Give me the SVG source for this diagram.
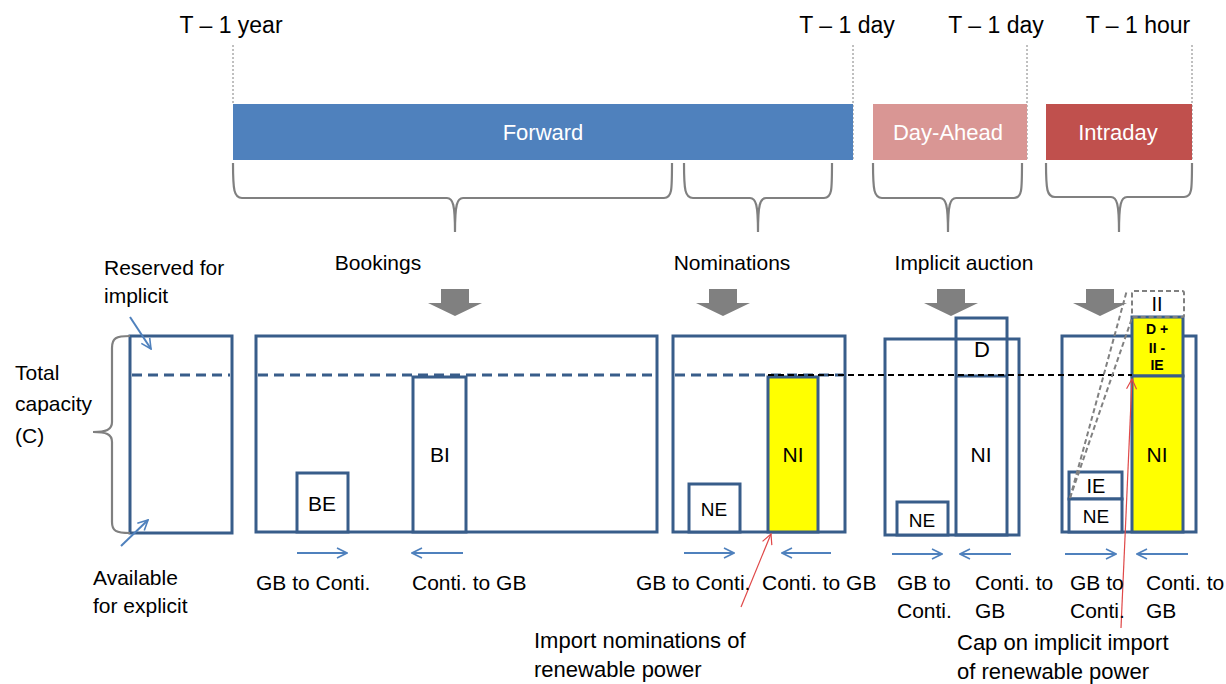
<svg xmlns="http://www.w3.org/2000/svg" width="1226" height="684" viewBox="0 0 1226 684">
<style>
text{font-family:"Liberation Sans",Arial,sans-serif;fill:#000}
.top{font-size:23px;text-anchor:middle}
.bar{font-size:22px;fill:#fff;text-anchor:middle}
.stage{font-size:21px;text-anchor:middle}
.side{font-size:21px}
.lbl{font-size:21px}
.note{font-size:22px}
.bx{font-size:21px;text-anchor:middle}
.bold{font-size:14px;font-weight:bold;text-anchor:middle}
.tick{stroke:#808080;stroke-width:1;stroke-dasharray:2 2;fill:none}
.brace{stroke:#808080;stroke-width:2.2;fill:none}
.box{fill:#fff;stroke:#385D8A;stroke-width:3}
.yel{fill:#FFFF00;stroke:#385D8A;stroke-width:3}
.nofill{fill:none;stroke:#385D8A;stroke-width:3}
.bdash{stroke:#385D8A;stroke-width:3;stroke-dasharray:10 6;fill:none}
.kdash{stroke:#000;stroke-width:2;stroke-dasharray:6 4;fill:none}
.gdash{stroke:#808080;stroke-width:2;stroke-dasharray:5 3;fill:none}
.big{fill:#808080}
.flow{stroke:#4F81BD;stroke-width:2;fill:none;marker-end:url(#ba)}
.red{stroke:#E04848;stroke-width:1.2;fill:none;marker-end:url(#ra)}
</style>
<defs>
<marker id="ba" viewBox="0 0 12 12" refX="11" refY="6" markerWidth="12" markerHeight="12" markerUnits="userSpaceOnUse" orient="auto">
<path d="M1,1 L11,6 L1,11" fill="none" stroke="#4F81BD" stroke-width="1.6"/>
</marker>
<marker id="ra" viewBox="0 0 12 12" refX="11" refY="6" markerWidth="12" markerHeight="12" markerUnits="userSpaceOnUse" orient="auto">
<path d="M1,1 L11,6 L1,11" fill="none" stroke="#E04848" stroke-width="1.2"/>
</marker>
</defs>
<rect width="1226" height="684" fill="#fff"/>

<g id="timeline">
<line class="tick" x1="233" y1="45" x2="233" y2="104"/>
<line class="tick" x1="853" y1="45" x2="853" y2="160"/>
<line class="tick" x1="1027" y1="45" x2="1027" y2="160"/>
<line class="tick" x1="1192" y1="45" x2="1192" y2="160"/>
<text class="top" x="231" y="33">T – 1 year</text>
<text class="top" x="847" y="33">T – 1 day</text>
<text class="top" x="996" y="33">T – 1 day</text>
<text class="top" x="1138" y="33">T – 1 hour</text>
</g>

<g id="forward-bar">
<rect x="233" y="104" width="620" height="56" fill="#4F81BD"/>
<text class="bar" x="543" y="140">Forward</text>
</g>
<g id="dayahead-bar">
<rect x="873" y="104" width="154" height="56" fill="#D99694"/>
<text class="bar" x="948" y="140">Day-Ahead</text>
</g>
<g id="intraday-bar">
<rect x="1046" y="104" width="146" height="56" fill="#C0504D"/>
<text class="bar" x="1118" y="140">Intraday</text>
</g>

<g id="braces">
<path class="brace" d="M233,163 C233,190 234,198 242,198 L447,198 C453,198 455,205 455,232 C455,205 457,198 463,198 L664,198 C672,198 672,190 672,163"/>
<path class="brace" d="M684,163 C684,190 685,198 693,198 L750,198 C756,198 758,205 758,232 C758,205 760,198 766,198 L824,198 C832,198 832,190 832,163"/>
<path class="brace" d="M873,163 C873,190 874,198 882,198 L940,198 C946,198 948,205 948,232 C948,205 950,198 956,198 L1014,198 C1022,198 1022,190 1022,163"/>
<path class="brace" d="M1046,163 C1046,190 1047,197 1055,197 L1111,197 C1117,197 1119,204 1119,232 C1119,204 1121,197 1127,197 L1184,197 C1192,197 1192,190 1192,163"/>
</g>

<g id="stage-labels">
<text class="stage" x="378" y="270">Bookings</text>
<text class="stage" x="732" y="270">Nominations</text>
<text class="stage" x="964" y="270">Implicit auction</text>
<polygon class="big" points="441,289 469,289 469,303 482,303 455,316 428,303 441,303"/>
<polygon class="big" points="709,289 737,289 737,303 750,303 723,316 696,303 709,303"/>
<polygon class="big" points="937,289 965,289 965,303 978,303 951,316 924,303 937,303"/>
<polygon class="big" points="1086,289 1114,289 1114,303 1127,303 1100,316 1073,303 1086,303"/>
</g>

<g id="capacity-legend">
<rect class="box" x="130" y="336" width="102" height="197"/>
<line class="bdash" x1="132" y1="375" x2="230" y2="375"/>
<path class="brace" d="M130,336 C116,336 112,338 112,348 L112,422 C112,430 106,432 93,432 C106,432 112,434 112,442 L112,522 C112,531 116,533 130,533"/>
<text class="side" x="15" y="380">Total</text>
<text class="side" x="15" y="411">capacity</text>
<text class="side" x="15" y="443">(C)</text>
<text class="side" x="104" y="275">Reserved for</text>
<text class="side" x="104" y="303">implicit</text>
<text class="side" x="93" y="585">Available</text>
<text class="side" x="93" y="613">for explicit</text>
</g>

<g id="bookings">
<rect class="box" x="256" y="336" width="401" height="196"/>
<line class="bdash" x1="258" y1="375" x2="655" y2="375"/>
<rect class="box" x="297" y="473" width="51" height="59"/>
<rect class="box" x="413" y="377" width="53" height="155"/>
<text class="bx" x="322" y="511">BE</text>
<text class="bx" x="440" y="462">BI</text>
</g>

<g id="nominations">
<rect class="box" x="673" y="336" width="172" height="196"/>
<line class="bdash" x1="675" y1="375" x2="843" y2="375"/>
<rect class="box" x="689" y="484" width="51" height="48"/>
<rect class="yel" x="768" y="377" width="50" height="155"/>
<text class="bx" x="714" y="516" style="font-size:19px">NE</text>
<text class="bx" x="793" y="462">NI</text>
</g>

<g id="day-ahead">
<rect class="box" x="885" y="339" width="134" height="196"/>
<rect class="nofill" x="956" y="318" width="51" height="217"/>
<line class="nofill" x1="956" y1="376" x2="1007" y2="376"/>
<rect class="box" x="897" y="502" width="51" height="33"/>
<text class="bx" x="982" y="357" style="font-size:22px">D</text>
<text class="bx" x="981" y="462">NI</text>
<text class="bx" x="922" y="527" style="font-size:19px">NE</text>
</g>

<g id="intraday">
<rect class="box" x="1062" y="336" width="134" height="196"/>
<rect class="yel" x="1132" y="317" width="51" height="59"/>
<rect class="yel" x="1132" y="376" width="51" height="156"/>
<rect class="gdash" x="1132" y="291" width="52" height="26" rx="2"/>
<rect class="box" x="1069" y="472" width="53" height="27"/>
<rect class="box" x="1069" y="499" width="53" height="33"/>
<text class="bx" x="1157" y="311" style="font-size:20px">II</text>
<text class="bold" x="1157" y="334">D +</text>
<text class="bold" x="1157" y="353">II -</text>
<text class="bold" x="1157" y="370">IE</text>
<text class="bx" x="1157" y="462">NI</text>
<text class="bx" x="1096" y="493" style="font-size:20px">IE</text>
<text class="bx" x="1096" y="523" style="font-size:19px">NE</text>
</g>

<g id="connectors">
<line class="kdash" x1="768" y1="375" x2="1132" y2="375"/>
<line class="gdash" x1="1070" y1="498" x2="1127" y2="290"/>
<line class="gdash" x1="1070" y1="498" x2="1132" y2="318"/>
<line class="flow" x1="130" y1="317" x2="151" y2="349"/>
<line class="flow" x1="121" y1="546" x2="148" y2="520"/>
<line class="flow" x1="297" y1="553" x2="347" y2="553"/>
<line class="flow" x1="463" y1="553" x2="412" y2="553"/>
<line class="flow" x1="684" y1="553" x2="734" y2="553"/>
<line class="flow" x1="831" y1="553" x2="782" y2="553"/>
<line class="flow" x1="892" y1="554" x2="942" y2="554"/>
<line class="flow" x1="1011" y1="554" x2="960" y2="554"/>
<line class="flow" x1="1065" y1="554" x2="1116" y2="554"/>
<line class="flow" x1="1188" y1="554" x2="1137" y2="554"/>
<line class="red" x1="741" y1="607" x2="771" y2="534"/>
<line class="red" x1="1121" y1="628" x2="1132" y2="379"/>
</g>

<g id="direction-labels">
<text class="lbl" x="256" y="590">GB to Conti.</text>
<text class="lbl" x="412" y="590">Conti. to GB</text>
<text class="lbl" x="636" y="590">GB to Conti.</text>
<text class="lbl" x="762" y="590">Conti. to GB</text>
<text class="lbl" x="897" y="590">GB to</text>
<text class="lbl" x="897" y="618">Conti.</text>
<text class="lbl" x="975" y="590">Conti. to</text>
<text class="lbl" x="975" y="618">GB</text>
<text class="lbl" x="1070" y="590">GB to</text>
<text class="lbl" x="1070" y="618">Conti.</text>
<text class="lbl" x="1146" y="590">Conti. to</text>
<text class="lbl" x="1146" y="618">GB</text>
</g>

<g id="notes">
<text class="note" x="534" y="648">Import nominations of</text>
<text class="note" x="534" y="677">renewable power</text>
<text class="note" x="957" y="650">Cap on implicit import</text>
<text class="note" x="957" y="679">of renewable power</text>
</g>
</svg>
